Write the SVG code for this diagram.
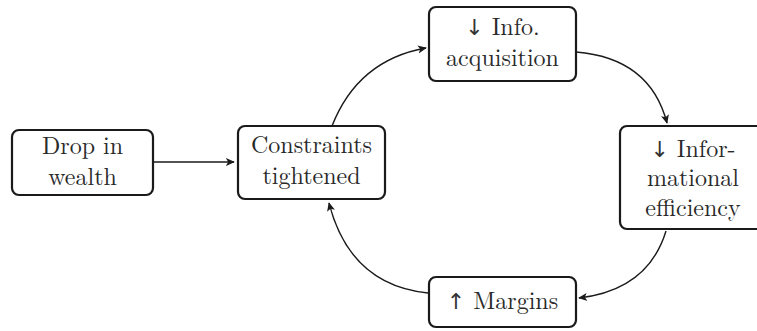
<svg xmlns="http://www.w3.org/2000/svg" width="757" height="331" viewBox="0 0 757 331">
<defs>
<style>
.box{fill:#fff;stroke:#1a1a1a;stroke-width:2.2}
.t{font-size:24px;fill:#2a2a2a;text-anchor:middle}
.e{fill:none;stroke:#1a1a1a;stroke-width:1.4}
</style>
<marker id="ah" viewBox="0 0 10 10" refX="9" refY="5" markerWidth="9" markerHeight="9" markerUnits="userSpaceOnUse" orient="auto">
<path d="M0,0.5 L10,5 L0,9.5 L2.5,5 Z" fill="#1a1a1a"/>
</marker>
</defs>
<g id="drop">
<rect class="box" x="12" y="130" width="141" height="65" rx="7"/>
<text class="t" x="82.5" y="154" font-family="Latin Modern Roman, Liberation Serif, serif">Drop in</text>
<text class="t" x="82.5" y="185" font-family="Latin Modern Roman, Liberation Serif, serif">wealth</text>
</g>
<g id="constraints">
<rect class="box" x="238" y="126" width="147" height="73" rx="7"/>
<text class="t" x="311.5" y="153" font-family="Latin Modern Roman, Liberation Serif, serif">Constraints</text>
<text class="t" x="311.5" y="184" font-family="Latin Modern Roman, Liberation Serif, serif">tightened</text>
</g>
<g id="info">
<rect class="box" x="429" y="7" width="147" height="74" rx="7"/>
<text class="t" x="502.5" y="35" font-family="Latin Modern Roman, Liberation Serif, serif"><tspan font-family="DejaVu Sans, sans-serif" font-size="22" fill="#333">↓</tspan> Info.</text>
<text class="t" x="502.5" y="66" font-family="Latin Modern Roman, Liberation Serif, serif">acquisition</text>
</g>
<g id="efficiency">
<rect class="box" x="620" y="126" width="146" height="103" rx="7"/>
<text class="t" x="693" y="157" font-family="Latin Modern Roman, Liberation Serif, serif"><tspan font-family="DejaVu Sans, sans-serif" font-size="22" fill="#333">↓</tspan> Infor-</text>
<text class="t" x="693" y="186" font-family="Latin Modern Roman, Liberation Serif, serif">mational</text>
<text class="t" x="693" y="216" font-family="Latin Modern Roman, Liberation Serif, serif">efficiency</text>
</g>
<g id="margins">
<rect class="box" x="429" y="277" width="147" height="50" rx="7"/>
<text class="t" x="502.5" y="309" font-family="Latin Modern Roman, Liberation Serif, serif"><tspan font-family="DejaVu Sans, sans-serif" font-size="22" fill="#333">↑</tspan> Margins</text>
</g>
<g id="connectors">
<path class="e" d="M153,162 L234,162" marker-end="url(#ah)"/>
<path class="e" d="M332,126 Q358,60 426,48" marker-end="url(#ah)"/>
<path class="e" d="M576,52 Q650,58 667,123" marker-end="url(#ah)"/>
<path class="e" d="M666,231 Q648,290 579,298" marker-end="url(#ah)"/>
<path class="e" d="M428,293 Q350,285 329,203" marker-end="url(#ah)"/>
</g>
</svg>
